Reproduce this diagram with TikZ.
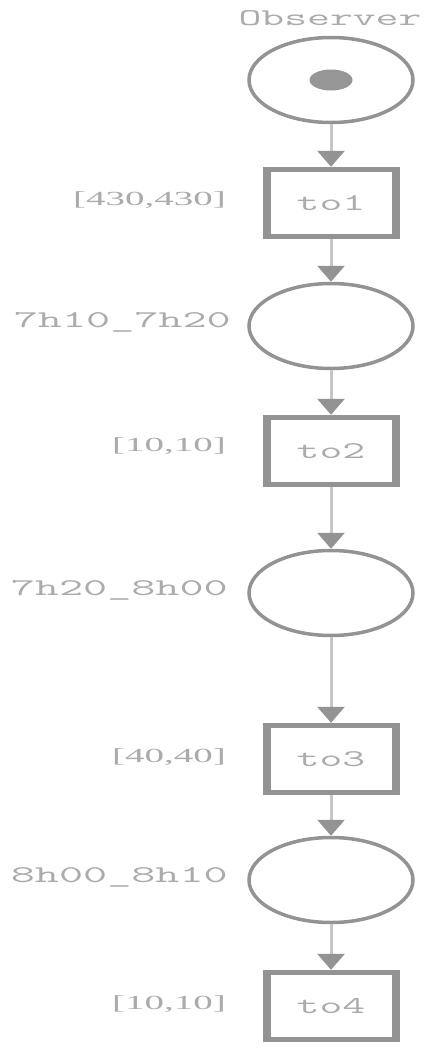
\documentclass[tikz,border=0pt]{standalone}
\usepackage{fontspec}
\setmainfont{Liberation Serif}
\usetikzlibrary{shapes.geometric,arrows.meta}
\definecolor{edgegray}{HTML}{939393}
\definecolor{arcgray}{HTML}{C6C6C6}
\definecolor{txtgray}{HTML}{ABABAB}
\definecolor{tokgray}{HTML}{969696}
% horizontally widened text
\newcommand\widetxt[1]{\scalebox{1.85}[1]{#1}}
\newcommand\widename[1]{\scalebox{1.95}[1]{#1}}
\newcommand\widerange[1]{\scalebox{1.95}[1]{#1}}

\begin{document}
\begin{tikzpicture}[x=1pt,y=-1pt,
  place/.style={ellipse, draw=edgegray, line width=3.5pt, fill=white,
    minimum width=164pt, minimum height=85pt, inner sep=0pt},
  trans/.style={rectangle, fill=edgegray, minimum width=137pt,
    minimum height=72pt, inner sep=0pt, text=txtgray,
    font=\ttfamily\fontsize{24}{24}\selectfont,
    path picture={\fill[white]
      ([xshift=8pt,yshift=5pt]path picture bounding box.south west)
      rectangle ([xshift=-8pt,yshift=-5pt]path picture bounding box.north east);}},
  monolabel/.style={text=txtgray, font=\ttfamily\fontsize{24}{24}\selectfont, inner sep=0pt},
  timelabel/.style={text=txtgray, font=\fontsize{20}{20}\selectfont, inner sep=0pt, anchor=mid east},
  arc/.style={draw=arcgray, line width=3pt,
    -{Triangle[width=27pt,length=16pt,color=edgegray]}},
  token/.style={ellipse, fill=tokgray, minimum width=43pt, minimum height=21pt, inner sep=0pt}
]
\useasboundingbox (0,0) rectangle (430,1050);

% places and transitions
\node[place] (p0) at (331,80) {};
\node[token] (tok) at (331,80) {};
\node[trans] (t1) at (331,203) {\widetxt{to1}};
\node[place] (p1) at (331,326) {};
\node[trans] (t2) at (331,451) {\widetxt{to2}};
\node[place] (p2) at (331,593) {};
\node[trans] (t3) at (331,759) {\widetxt{to3}};
\node[place] (p3) at (331,880) {};
\node[trans] (t4) at (331,1006) {\widetxt{to4}};

% names and timing intervals
\node[monolabel] (obs) at (330,18) {\widetxt{Observer}};
\node[monolabel, anchor=mid east] (l1) at (231,325) {\widename{7h10\_7h20}};
\node[monolabel, anchor=mid east] (l2) at (228,593) {\widename{7h20\_8h00}};
\node[monolabel, anchor=mid east] (l3) at (228,880) {\widename{8h00\_8h10}};
\node[timelabel] (i1) at (226,203) {\widerange{[430,430]}};
\node[timelabel] (i2) at (226,449) {\widerange{[10,10]}};
\node[timelabel] (i3) at (226,760) {\widerange{[40,40]}};
\node[timelabel] (i4) at (226,1007) {\widerange{[10,10]}};

% arcs
\draw[arc] (p0) -- (t1);
\draw[arc] (t1) -- (p1);
\draw[arc] (p1) -- (t2);
\draw[arc] (t2) -- (p2);
\draw[arc] (p2) -- (t3);
\draw[arc] (t3) -- (p3);
\draw[arc] (p3) -- (t4);
\end{tikzpicture}
\end{document}
